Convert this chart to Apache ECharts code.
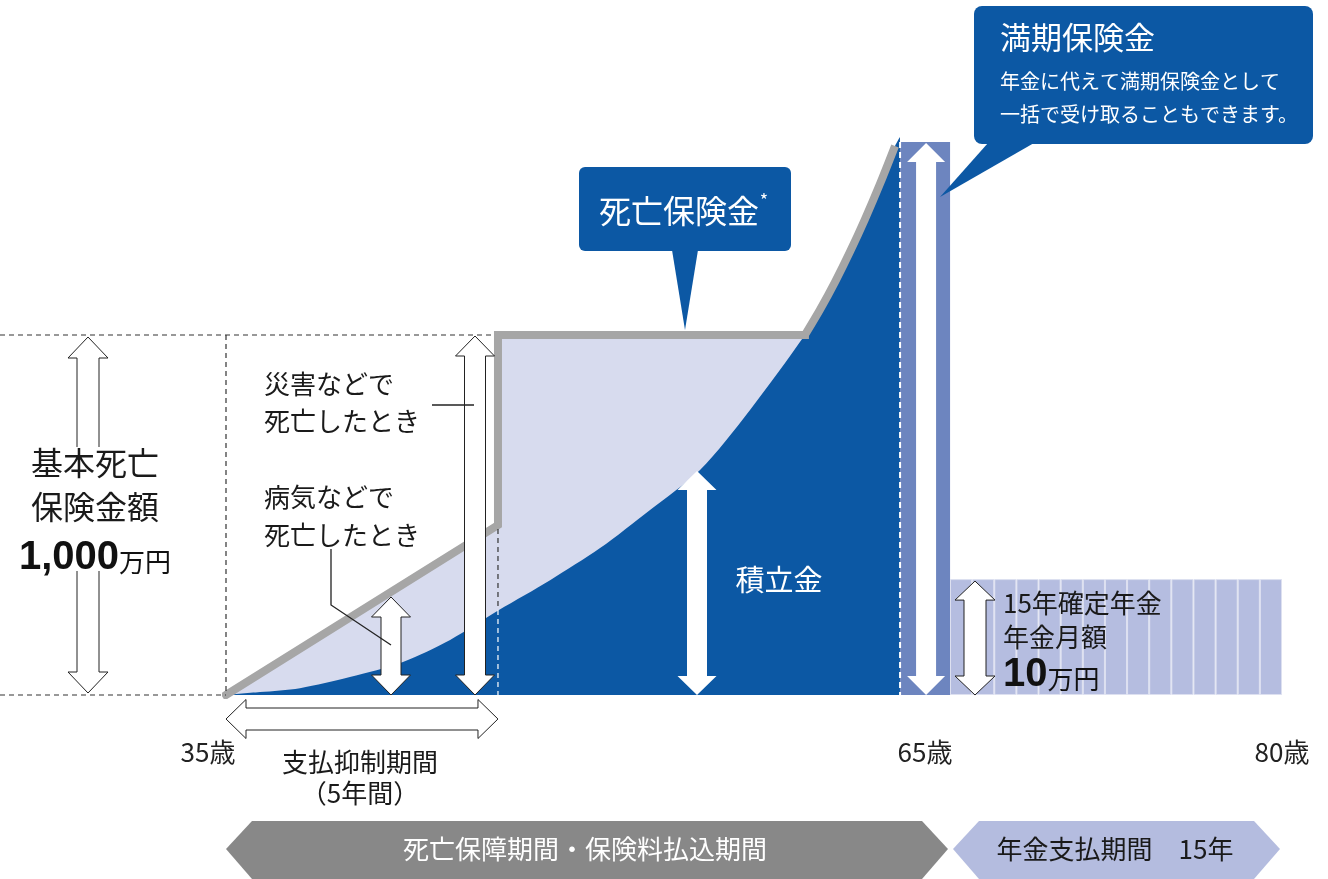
<!DOCTYPE html>
<html><head><meta charset="utf-8">
<script src="https://cdn.jsdelivr.net/npm/echarts@6/dist/echarts.min.js"></script>
<style>html,body{margin:0;padding:0;background:#fff}#c{width:1328px;height:879px}</style>
</head><body><div id="c"></div>
<script>
// ---- data ----
const reserveAge   = [35, 36.45, 38.15, 40.28, 42.54, 44.55, 46.63, 48.81, 50.94, 53.07, 55.2, 57.33, 59.67, 60.31, 60.95, 61.59, 62.23, 62.87, 63.51, 63.72];
const reserveValue = [0, 8, 19, 50, 92, 153, 236, 319, 408, 514, 625, 792, 1000, 1070, 1147, 1231, 1322, 1420, 1525, 1550];
const deathAge     = [35, 46.59, 46.59, 59.67];     // straight part of the death benefit
const deathValue   = [0, 472, 1000, 1000];
const deathCurveAge   = [59.67, 60.31, 60.95, 61.59, 62.23, 62.87, 63.51]; // then follows 積立金
const deathCurveValue = [1000, 1070, 1147, 1231, 1322, 1420, 1525];
const basicDeath   = 1000;           // 基本死亡保険金額 (万円)
const maturityAge  = [64.79];
const maturityValue= [1536];
const pensionYears = ['1','2','3','4','5','6','7','8','9','10','11','12','13','14','15'];
const pensionValue = [322,322,322,322,322,322,322,322,322,322,322,322,322,322,322];
const ageTicks     = [35, 65, 80];

const FONT = '"Noto Sans CJK JP","Noto Sans",sans-serif';
const NUMFONT = '"Liberation Sans",Arial,sans-serif';
const BLUE = '#0c58a4';

const chart = echarts.init(document.getElementById('c'), null, {renderer:'canvas'});
const zip = (a,b) => a.map((v,i)=>[v,b[i]]);
const lab = {fontSize:26,fontFamily:FONT,color:'#222'};

const option = {
  backgroundColor:'#fff',
  animation:false,
  grid:[
    {left:226, right:46, top:47, bottom:184},
    {left:950, right:46, top:47, bottom:184}
  ],
  xAxis:[
    {type:'value', gridIndex:0, min:35, max:80, interval:5,
     axisLine:{show:false}, axisTick:{show:false}, splitLine:{show:false},
     axisLabel:{margin:44, color:'#222', fontSize:26, fontFamily:FONT,
       formatter:v=> ageTicks.indexOf(v)<0 ? '' : (v===35?'{a|':v===65?'{b|':'{c|')+v+'歳}',
       rich:{a:Object.assign({padding:[0,36,0,0]},lab),
             b:Object.assign({padding:[0,10,0,0]},lab),
             c:lab}}},
    {type:'category', gridIndex:1, data:pensionYears, show:false}
  ],
  yAxis:[
    {type:'value', gridIndex:0, min:0, max:1800, show:false, splitLine:{show:false}},
    {type:'value', gridIndex:1, min:0, max:1800, show:false, splitLine:{show:false}}
  ],
  series:[
    {type:'line', name:'死亡保険金面', data:zip(deathAge,deathValue), showSymbol:false,
     lineStyle:{width:0}, areaStyle:{color:'#d7dbee', opacity:1}, z:1},
    {type:'line', name:'積立金', data:zip(reserveAge,reserveValue), showSymbol:false,
     smooth:0.3,
     lineStyle:{width:0}, areaStyle:{color:BLUE, opacity:1}, z:2},
    {type:'bar', name:'満期保険金', data:zip(maturityAge,maturityValue), barWidth:50,
     itemStyle:{color:'#6d85bf'}, z:2},
    {type:'line', name:'死亡保険金', data:zip(deathAge,deathValue), showSymbol:false,
     lineStyle:{width:8, color:'#a6a6a6', join:'miter', cap:'square'}, z:3},
    {type:'line', name:'死亡保険金(積立金)', data:zip(deathCurveAge,deathCurveValue), showSymbol:false,
     smooth:0.3,
     lineStyle:{width:8, color:'#a6a6a6', cap:'butt'}, z:3},
    {type:'bar', name:'年金', xAxisIndex:1, yAxisIndex:1, data:pensionValue,
     barCategoryGap:'0%', itemStyle:{color:'#b5bde0', borderColor:'#dde0f0', borderWidth:1}, z:2}
  ]
};
chart.setOption(option);

const P = (x,y)=>chart.convertToPixel({xAxisIndex:0,yAxisIndex:0},[x,y]);
const Y0 = P(35,0)[1], Y1000 = P(35,basicDeath)[1];
const X35 = P(35,0)[0];
const Xstep = P(deathAge[1],0)[0];
const Ystep = P(35,deathValue[1])[1];
const YresStep = P(35,reserveValue[6])[1];
const Xmat = P(maturityAge[0],0)[0], Ymat = P(35,maturityValue[0])[1];
const Ypen = chart.convertToPixel({xAxisIndex:1,yAxisIndex:1},['1',pensionValue[0]])[1];
const XpenL = 950;

function vArrow(cx,yT,yB,sw,hw,hl){
  return [[cx,yT],[cx+hw/2,yT+hl],[cx+sw/2,yT+hl],[cx+sw/2,yB-hl],[cx+hw/2,yB-hl],[cx,yB],
          [cx-hw/2,yB-hl],[cx-sw/2,yB-hl],[cx-sw/2,yT+hl],[cx-hw/2,yT+hl]];
}
function hArrow(xL,xR,cy,sh,hh,hl){
  return [[xL,cy],[xL+hl,cy-hh/2],[xL+hl,cy-sh/2],[xR-hl,cy-sh/2],[xR-hl,cy-hh/2],[xR,cy],
          [xR-hl,cy+hh/2],[xR-hl,cy+sh/2],[xL+hl,cy+sh/2],[xL+hl,cy+hh/2]];
}
const g = [];
const Z = 100;
function line(x1,y1,x2,y2,stroke,dash,w){
  g.push({type:'line',z:Z,shape:{x1,y1,x2,y2},style:{stroke,lineWidth:w||1.2,lineDash:dash||null}});
}
function poly(points,fill,stroke,w){
  g.push({type:'polygon',z:Z,shape:{points},style:{fill,stroke:stroke||null,lineWidth:w||1}});
}
function text(t,x,y,size,color,align,weight){
  g.push({type:'text',z:Z+1,style:{text:t,x,y,fill:color,font:(weight||'normal')+' '+size+'px '+FONT,
    align:align||'center',verticalAlign:'middle',textAlign:align||'center',textVerticalAlign:'middle'}});
}
function rich(t,x,y,richDef,align){
  g.push({type:'text',z:Z+1,style:{text:t,x,y,rich:richDef,align:align||'left',verticalAlign:'middle'}});
}

// dashed guide lines
const DASH=[5,4];
line(0,Y1000,Xstep-4,Y1000,'#333',DASH);
line(0,Y0,X35,Y0,'#333',DASH);
line(X35,Y1000,X35,Y0,'#333',DASH);
line(Xstep,Ystep+4,Xstep,YresStep,'#333',DASH);
line(Xstep,YresStep,Xstep,Y0,'#fff',DASH);
line(Xmat-25,Ymat,Xmat-25,Y0,'#fff',[6,4],2);

// left 基本死亡保険金額 arrow
poly(vArrow(88,Y1000+2,Y0-2,22,40,21),'#fff','#222');
g.push({type:'rect',z:Z,shape:{x:60,y:447,width:56,height:124},style:{fill:'#fff'}});
text('基本死亡',95,463,32,'#1a1a1a');
text('保険金額',95,507,32,'#1a1a1a');
rich('{a|1,000}{b|万円}',95,555,{a:{font:'bold 40px '+NUMFONT,fill:'#111',verticalAlign:'bottom',lineHeight:46},
  b:{font:'26px '+FONT,fill:'#111',verticalAlign:'bottom',lineHeight:46,padding:[0,0,3,0]}},'center');

// 病気 / 災害 arrows
poly(vArrow(391,597,Y0,20,39,20),'#fff','#222');
poly(vArrow(475,Y1000+1,Y0,21,39,20),'#fff','#222');
// 積立金 arrow
poly(vArrow(697,471,Y0,20,39,19),'#fff',null);
// 満期 arrow inside bar
poly(vArrow(Xmat+1,Ymat+1,Y0,20,38,19),'#fff',null);
// pension arrow
poly(vArrow(XpenL+25,Ypen+2,Y0,22,40,19),'#fff','#222');
// 支払抑制期間 arrow
poly(hArrow(X35,Xstep,719,22,39,20),'#fff','#222');

// leader lines
line(432,405,474,405,'#222',null,1.3);
g.push({type:'polyline',z:Z,shape:{points:[[331,549],[331,605],[391,645]]},style:{stroke:'#222',lineWidth:1.3,fill:null}});

// texts
text('災害などで',264,384,26,'#1a1a1a','left');
text('死亡したとき',264,421,26,'#1a1a1a','left');
text('病気などで',264,497,26,'#1a1a1a','left');
text('死亡したとき',264,535,26,'#1a1a1a','left');
text('支払抑制期間',360,762,26,'#1a1a1a');
text('（5年間）',360,793,26,'#1a1a1a');
text('積立金',779,580,29,'#fff');
text('15年確定年金',1003,603,26,'#1a1a1a','left');
text('年金月額',1003,637,26,'#1a1a1a','left');
rich('{a|10}{b|万円}',1003,672,{a:{font:'bold 40px '+NUMFONT,fill:'#111',verticalAlign:'bottom',lineHeight:46},
  b:{font:'26px '+FONT,fill:'#111',verticalAlign:'bottom',lineHeight:46,padding:[0,0,3,0]}},'left');

// callout: 死亡保険金
g.push({type:'rect',z:Z,shape:{x:579,y:167,width:212,height:84,r:6},style:{fill:BLUE}});
poly([[672,250],[698,250],[685,330]],BLUE);
text('死亡保険金',679,211,32,'#fff');
text('*',764,200,18,'#fff');

// callout: 満期保険金
g.push({type:'rect',z:Z,shape:{x:974,y:6,width:339,height:138,r:8},style:{fill:BLUE}});
poly([[988,143],[1034,143],[940,197]],BLUE);
text('満期保険金',1000,37,31,'#fff','left');
text('年金に代えて満期保険金として',1000,81,20,'#fff','left');
text('一括で受け取ることもできます。',1000,114,20,'#fff','left');

// bottom period banners
poly([[X35,849],[X35+26,821],[922,821],[948,849],[922,879],[X35+26,879]],'#888888');
text('死亡保障期間・保険料払込期間',585,849,26,'#fff');
poly([[953,849],[979,821],[1254,821],[1280,849],[1254,879],[979,879]],'#b4bcdf');
text('年金支払期間　15年',1115,849,26,'#1a1a1a');

chart.setOption({graphic:{elements:g}});
</script></body></html>
